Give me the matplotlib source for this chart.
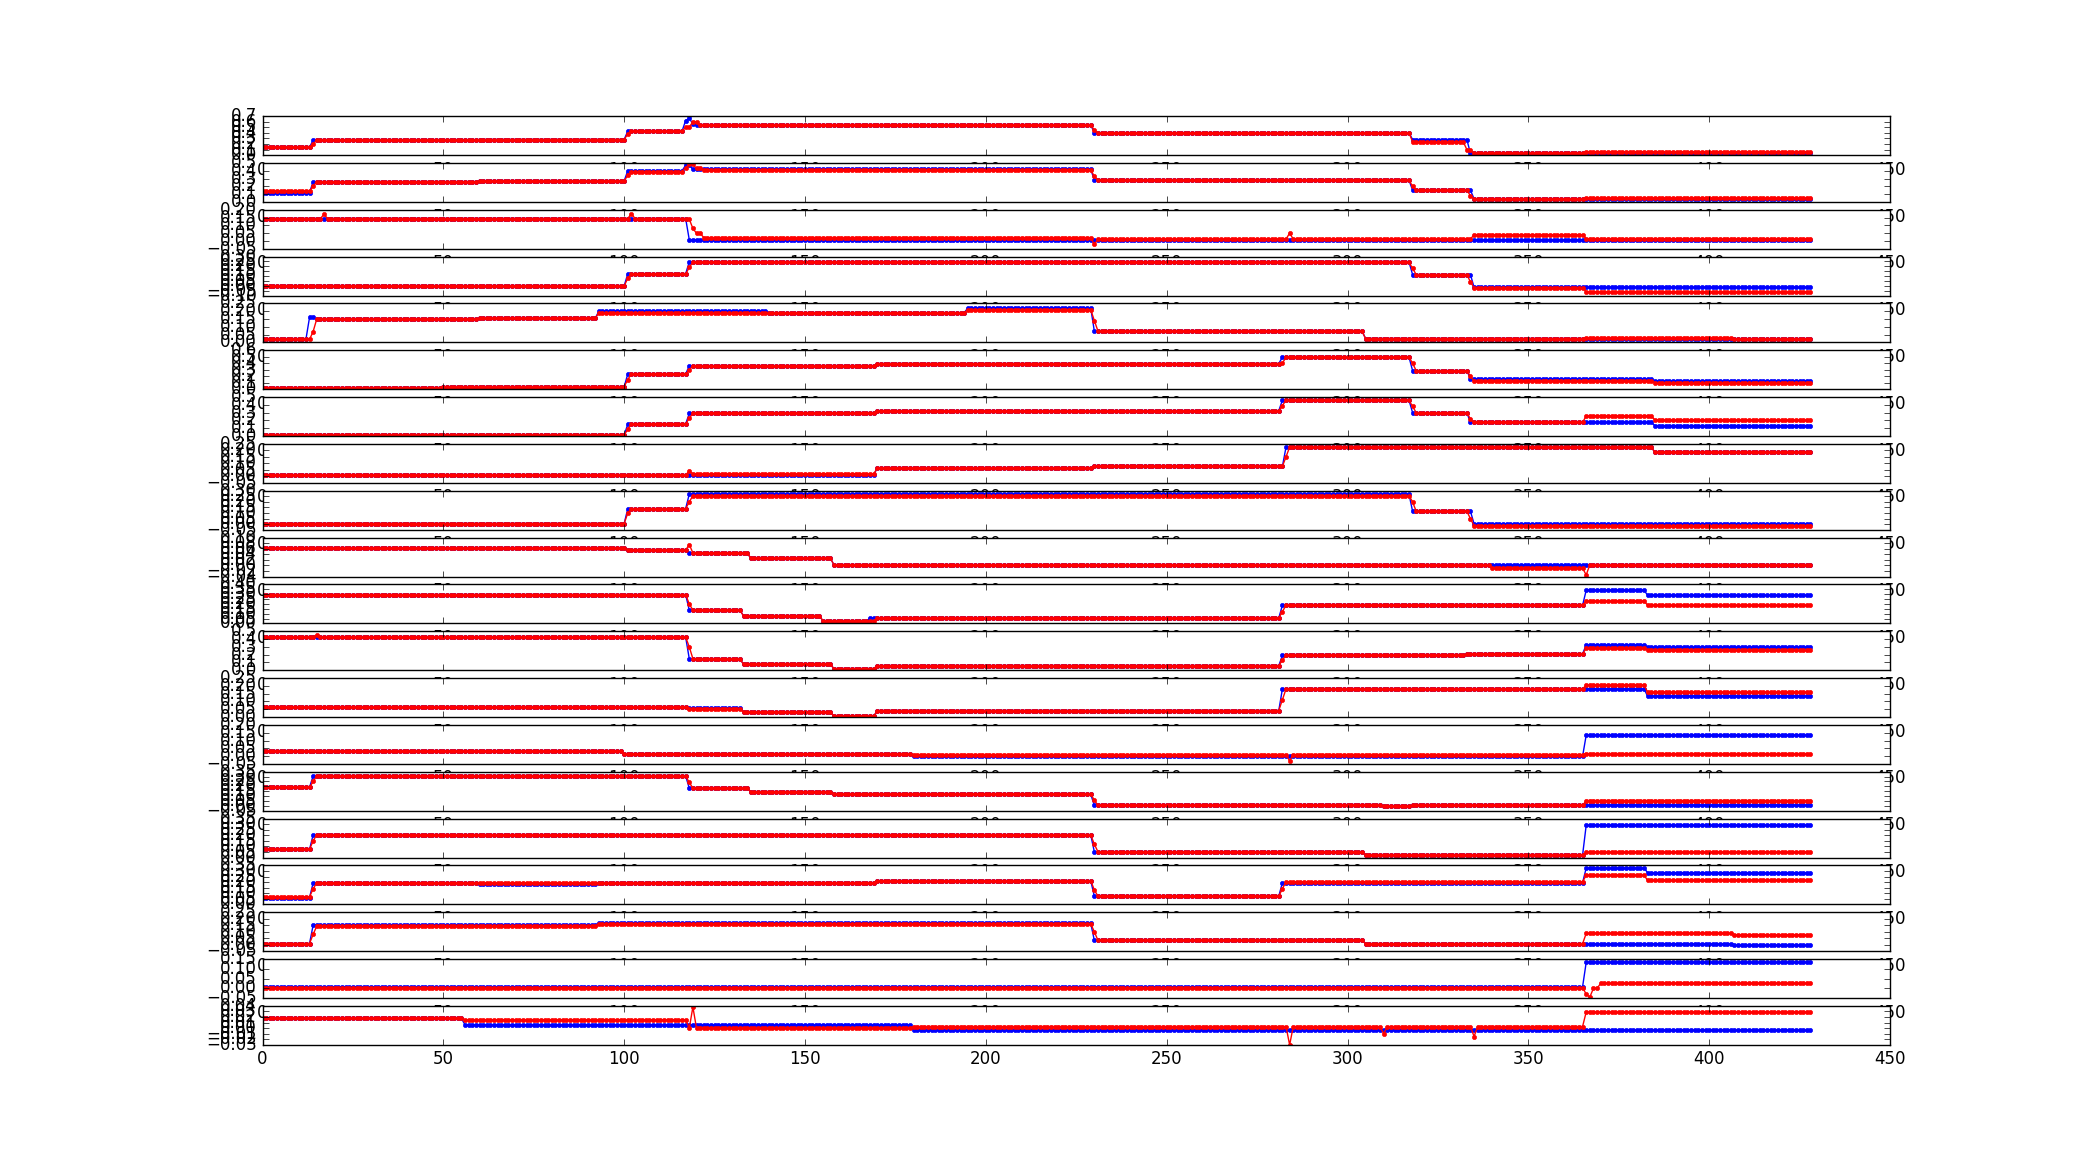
import numpy as np
import matplotlib
matplotlib.use("Agg")
import matplotlib.pyplot as plt

plt.style.use("classic")

n_points = 429

# each series is a list of (start sample, level) steps
ylims = [
    (0, 0.7), (0, 0.5), (-0.05, 0.20), (-0.10, 0.30), (0, 0.25),
    (0, 0.6), (0, 0.5), (-0.05, 0.25), (-0.05, 0.30), (-0.04, 0.10),
    (0, 0.40), (0, 0.5), (0, 0.25), (-0.05, 0.20), (-0.05, 0.35),
    (0, 0.35), (0, 0.35), (-0.05, 0.25), (-0.05, 0.15), (-0.03, 0.04),
]

blue_steps = [
    [(0, 0.14), (14, 0.27), (60, 0.28), (101, 0.43), (117, 0.62), (118, 0.66), (119, 0.56), (120, 0.54), (230, 0.40), (318, 0.28), (334, 0.03)],
    [(0, 0.12), (14, 0.26), (60, 0.27), (101, 0.40), (117, 0.47), (119, 0.42), (230, 0.28), (318, 0.15), (335, 0.04)],
    [(0, 0.144), (118, 0.008)],
    [(0, 0.0), (101, 0.124), (118, 0.245), (318, 0.115), (335, -0.015)],
    [(0, 0.019), (13, 0.16), (15, 0.15), (60, 0.155), (93, 0.20), (140, 0.19), (195, 0.22), (230, 0.073), (305, 0.025), (407, 0.02)],
    [(0, 0.025), (50, 0.04), (101, 0.235), (118, 0.36), (170, 0.395), (282, 0.495), (318, 0.285), (334, 0.16), (385, 0.125)],
    [(0, 0.01), (101, 0.155), (118, 0.29), (170, 0.325), (282, 0.46), (318, 0.30), (334, 0.175), (385, 0.135)],
    [(0, 0.013), (170, 0.064), (230, 0.077), (283, 0.225), (385, 0.186)],
    [(0, 0.006), (101, 0.139), (118, 0.27), (318, 0.115), (335, 0.003)],
    [(0, 0.061), (101, 0.055), (118, 0.043), (135, 0.027), (158, 0.002)],
    [(0, 0.295), (118, 0.136), (133, 0.078), (155, 0.024), (168, 0.056), (282, 0.186), (366, 0.34), (383, 0.288)],
    [(0, 0.424), (118, 0.148), (133, 0.076), (158, 0.021), (170, 0.059), (282, 0.19), (333, 0.21), (366, 0.326), (383, 0.297)],
    [(0, 0.064), (118, 0.057), (133, 0.032), (158, 0.006), (170, 0.042), (282, 0.18), (383, 0.133)],
    [(0, 0.031), (100, 0.014), (180, -0.001), (366, 0.134)],
    [(0, 0.19), (14, 0.306), (118, 0.182), (135, 0.146), (158, 0.12), (230, 0.004), (310, -0.005), (318, 0.004)],
    [(0, 0.073), (14, 0.204), (230, 0.052), (305, 0.023), (366, 0.29)],
    [(0, 0.06), (14, 0.193), (60, 0.185), (93, 0.195), (170, 0.213), (230, 0.074), (282, 0.195), (366, 0.326), (383, 0.284)],
    [(0, 0.009), (14, 0.15), (93, 0.165), (230, 0.034), (305, 0.008), (407, -0.005)],
    [(0, 0.008), (366, 0.133)],
    [(0, 0.0175), (56, 0.006), (180, -0.0035)],
]

red_steps = [
    [(0, 0.14), (14, 0.20), (15, 0.27), (60, 0.28), (101, 0.38), (102, 0.43), (117, 0.50), (119, 0.60), (121, 0.54), (230, 0.45), (231, 0.40), (318, 0.24), (333, 0.10), (335, 0.03), (366, 0.06)],
    [(0, 0.14), (14, 0.20), (15, 0.26), (60, 0.27), (101, 0.34), (102, 0.39), (117, 0.44), (118, 0.48), (120, 0.43), (122, 0.41), (230, 0.33), (231, 0.28), (318, 0.20), (319, 0.15), (334, 0.08), (335, 0.04), (366, 0.05)],
    [(0, 0.144), (118, 0.14), (119, 0.08), (120, 0.05), (122, 0.022), (230, 0.012), (335, 0.04), (366, 0.015)],
    [(0, -0.003), (101, 0.08), (102, 0.12), (118, 0.19), (119, 0.24), (318, 0.18), (319, 0.115), (334, 0.04), (335, -0.018), (366, -0.06)],
    [(0, 0.019), (14, 0.07), (15, 0.15), (60, 0.155), (93, 0.19), (195, 0.21), (230, 0.14), (231, 0.073), (305, 0.025), (366, 0.031), (407, 0.02)],
    [(0, 0.025), (50, 0.04), (101, 0.15), (102, 0.235), (118, 0.30), (119, 0.36), (170, 0.395), (282, 0.40), (283, 0.495), (318, 0.40), (319, 0.285), (334, 0.20), (335, 0.125), (385, 0.10)],
    [(0, 0.01), (101, 0.09), (102, 0.155), (118, 0.23), (119, 0.29), (170, 0.325), (282, 0.39), (283, 0.46), (318, 0.38), (319, 0.30), (334, 0.22), (335, 0.175), (366, 0.26), (385, 0.205)],
    [(0, 0.013), (118, 0.04), (119, 0.02), (170, 0.064), (230, 0.077), (283, 0.15), (284, 0.225), (385, 0.186)],
    [(0, 0.006), (101, 0.10), (102, 0.139), (118, 0.20), (119, 0.255), (318, 0.20), (319, 0.115), (334, 0.05), (335, -0.015)],
    [(0, 0.061), (101, 0.055), (118, 0.045), (135, 0.027), (158, 0.002), (340, -0.01), (366, 0.002)],
    [(0, 0.295), (118, 0.20), (119, 0.136), (133, 0.078), (155, 0.024), (170, 0.056), (282, 0.12), (283, 0.186), (366, 0.229), (383, 0.186)],
    [(0, 0.424), (118, 0.30), (119, 0.148), (133, 0.076), (158, 0.021), (170, 0.059), (282, 0.13), (283, 0.19), (333, 0.21), (366, 0.284), (383, 0.254)],
    [(0, 0.064), (118, 0.055), (133, 0.032), (158, 0.006), (170, 0.042), (282, 0.11), (283, 0.18), (366, 0.205), (383, 0.159)],
    [(0, 0.031), (100, 0.014), (180, 0.01), (366, 0.016)],
    [(0, 0.19), (14, 0.25), (15, 0.306), (118, 0.24), (119, 0.182), (135, 0.146), (158, 0.12), (230, 0.06), (231, 0.004), (310, -0.005), (318, 0.004), (366, 0.055)],
    [(0, 0.073), (14, 0.15), (15, 0.204), (230, 0.12), (231, 0.052), (305, 0.023), (366, 0.05)],
    [(0, 0.068), (14, 0.14), (15, 0.193), (93, 0.195), (170, 0.213), (230, 0.13), (231, 0.074), (282, 0.14), (283, 0.203), (366, 0.262), (383, 0.215)],
    [(0, 0.009), (14, 0.08), (15, 0.143), (93, 0.161), (230, 0.10), (231, 0.034), (305, 0.008), (366, 0.087), (407, 0.077)],
    [(0, 0.004), (366, -0.03), (367, -0.045), (368, 0.0), (370, 0.025)],
    [(0, 0.0175), (56, 0.015), (118, 0.0), (180, 0.003), (366, 0.029)],
]

# single-sample spikes on the red series: row -> [(sample, value)]
red_spikes = {
    2: [(17, 0.17), (102, 0.175), (230, -0.022), (284, 0.05)],
    9: [(118, 0.075), (366, -0.034)],
    11: [(15, 0.45)],
    13: [(284, -0.03)],
    19: [(119, 0.038), (284, -0.03), (310, -0.01), (335, -0.015)],
}


def expand(steps, spikes=()):
    y = np.empty(n_points)
    ends = [s for s, _ in steps[1:]] + [n_points]
    for (start, level), end in zip(steps, ends):
        y[start:end] = level
    for xi, v in spikes:
        y[xi] = v
    return y


x = np.arange(n_points)

fig, axes = plt.subplots(len(ylims), 1, figsize=(21, 11.61))

for i, ax in enumerate(axes):
    ax.plot(x, expand(blue_steps[i]), "b.-")
    ax.plot(x, expand(red_steps[i], red_spikes.get(i, ())), "r.-")
    ax.set_xlim(0, 450)
    ax.set_ylim(*ylims[i])

plt.savefig("out.png", dpi=100)
